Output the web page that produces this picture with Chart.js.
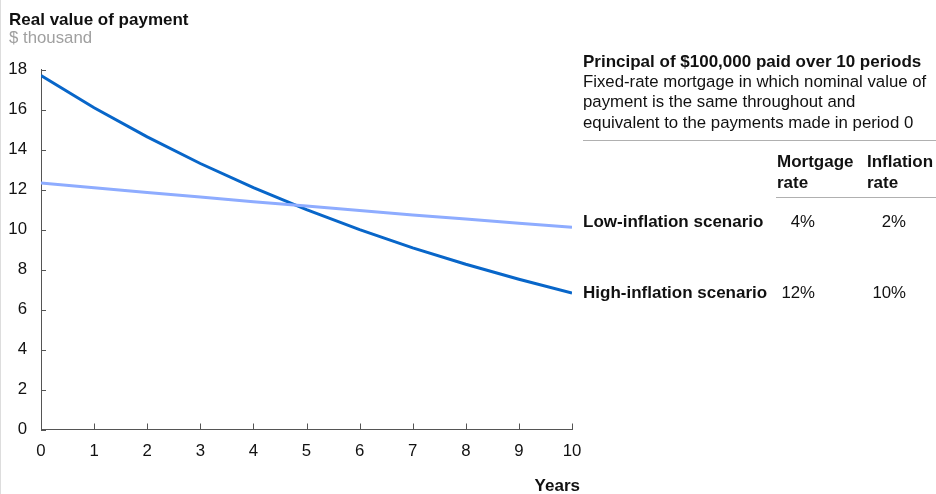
<!DOCTYPE html>
<html>
<head>
<meta charset="utf-8">
<script src="https://cdn.jsdelivr.net/npm/chart.js@4/dist/chart.umd.min.js"></script>
<style>
  html, body { margin: 0; padding: 0; background: #fff; }
  #wrap { position: relative; width: 936px; height: 494px; }
</style>
</head>
<body>
<div id="wrap"><canvas id="c" width="936" height="494"></canvas></div>
<script>
// ---- Data ----
const years = [0, 1, 2, 3, 4, 5, 6, 7, 8, 9, 10];
const lowInflation = [12.33, 12.09, 11.85, 11.62, 11.39, 11.17, 10.95, 10.73, 10.52, 10.31, 10.11];
const highInflation = [17.70, 16.09, 14.63, 13.30, 12.09, 10.99, 9.99, 9.08, 8.26, 7.51, 6.82];
const yTicks = [0, 2, 4, 6, 8, 10, 12, 14, 16, 18];
const xTicks = [0, 1, 2, 3, 4, 5, 6, 7, 8, 9, 10];

const seriesNames = ['Low-inflation scenario', 'High-inflation scenario'];
const mortgageRates = ['4%', '12%'];
const inflationRates = ['2%', '10%'];

const FONT = '"Liberation Sans", Arial, Helvetica, sans-serif';
const BOLD = 'bold 17px ' + FONT;
const REG = '16.8px ' + FONT;
const LOW_COLOR = '#8eacff';
const HIGH_COLOR = '#0866c9';
const AXIS_COLOR = '#555555';

const toPoints = (vals) => years.map((x, i) => ({ x: x, y: vals[i] }));

const decor = {
  id: 'decor',
  afterDraw(chart) {
    const ctx = chart.ctx;
    const xs = chart.scales.x, ys = chart.scales.y;
    const ca = chart.chartArea;
    ctx.save();
    // faint left frame line
    ctx.strokeStyle = '#dddddd';
    ctx.lineWidth = 1;
    ctx.beginPath(); ctx.moveTo(0.5, 0); ctx.lineTo(0.5, 494); ctx.stroke();

    // inward tick marks
    ctx.strokeStyle = AXIS_COLOR;
    ctx.lineWidth = 1;
    ctx.beginPath();
    yTicks.forEach(v => {
      const y = Math.round(ys.getPixelForValue(v)) + 0.5;
      ctx.moveTo(ca.left, y); ctx.lineTo(ca.left + 5, y);
    });
    xTicks.forEach(v => {
      const x = Math.round(xs.getPixelForValue(v)) + 0.5;
      ctx.moveTo(x, ca.bottom); ctx.lineTo(x, ca.bottom - 6);
    });
    ctx.stroke();

    // Titles
    ctx.textBaseline = 'middle';
    ctx.textAlign = 'left';
    ctx.fillStyle = '#111111';
    ctx.font = BOLD;
    ctx.fillText('Real value of payment', 9, 20);
    ctx.fillStyle = '#a0a0a0';
    ctx.font = REG;
    ctx.fillText('$ thousand', 9, 38);

    // Years label
    ctx.fillStyle = '#111111';
    ctx.font = BOLD;
    ctx.textAlign = 'right';
    ctx.fillText('Years', 580, 486);

    // Right-side note
    ctx.textAlign = 'left';
    ctx.font = BOLD;
    ctx.fillText('Principal of $100,000 paid over 10 periods', 583, 62);
    ctx.font = REG;
    ctx.fillText('Fixed-rate mortgage in which nominal value of', 583, 82);
    ctx.fillText('payment is the same throughout and', 583, 102.5);
    ctx.fillText('equivalent to the payments made in period 0', 583, 123);

    ctx.strokeStyle = '#b0b0b0';
    ctx.beginPath(); ctx.moveTo(583, 140.5); ctx.lineTo(936, 140.5); ctx.stroke();

    ctx.font = BOLD;
    ctx.fillText('Mortgage', 777, 162);
    ctx.fillText('rate', 777, 183);
    ctx.fillText('Inflation', 867, 162);
    ctx.fillText('rate', 867, 183);
    ctx.beginPath(); ctx.moveTo(776, 197.5); ctx.lineTo(936, 197.5); ctx.stroke();

    // series labels and table rows
    const rowY = [222, 293];
    seriesNames.forEach((name, i) => {
      ctx.textAlign = 'left';
      ctx.font = BOLD;
      ctx.fillText(name, 583, rowY[i]);
      ctx.textAlign = 'right';
      ctx.font = REG;
      ctx.fillText(mortgageRates[i], 815, rowY[i]);
      ctx.fillText(inflationRates[i], 906, rowY[i]);
    });
    ctx.restore();
  }
};

new Chart(document.getElementById('c'), {
  type: 'line',
  data: {
    datasets: [
      { label: seriesNames[0], data: toPoints(lowInflation), borderColor: LOW_COLOR, borderWidth: 3, pointRadius: 0, tension: 0, fill: false },
      { label: seriesNames[1], data: toPoints(highInflation), borderColor: HIGH_COLOR, borderWidth: 3, pointRadius: 0, tension: 0, fill: false }
    ]
  },
  options: {
    responsive: false,
    animation: false,
    devicePixelRatio: 1,
    layout: { padding: { left: 0, right: 364, top: 69.5, bottom: 0 } },
    plugins: { legend: { display: false }, tooltip: { enabled: false }, title: { display: false } },
    scales: {
      x: {
        type: 'linear', min: 0, max: 10,
        afterBuildTicks: (s) => { s.ticks = xTicks.map(v => ({ value: v })); },
        afterFit: (s) => { s.height = 64.5; },
        grid: { display: false, drawTicks: false },
        border: { display: true, color: AXIS_COLOR, width: 1 },
        ticks: { color: '#111111', font: { family: FONT, size: 16.8 }, padding: 12, maxRotation: 0, autoSkip: false }
      },
      y: {
        min: 0, max: 18,
        afterBuildTicks: (s) => { s.ticks = yTicks.map(v => ({ value: v })); },
        afterFit: (s) => { s.width = 41; },
        grid: { display: false, drawTicks: false },
        border: { display: true, color: AXIS_COLOR, width: 1 },
        ticks: { color: '#111111', font: { family: FONT, size: 16.8 }, padding: 14, autoSkip: false }
      }
    }
  },
  plugins: [decor]
});
</script>
</body>
</html>
